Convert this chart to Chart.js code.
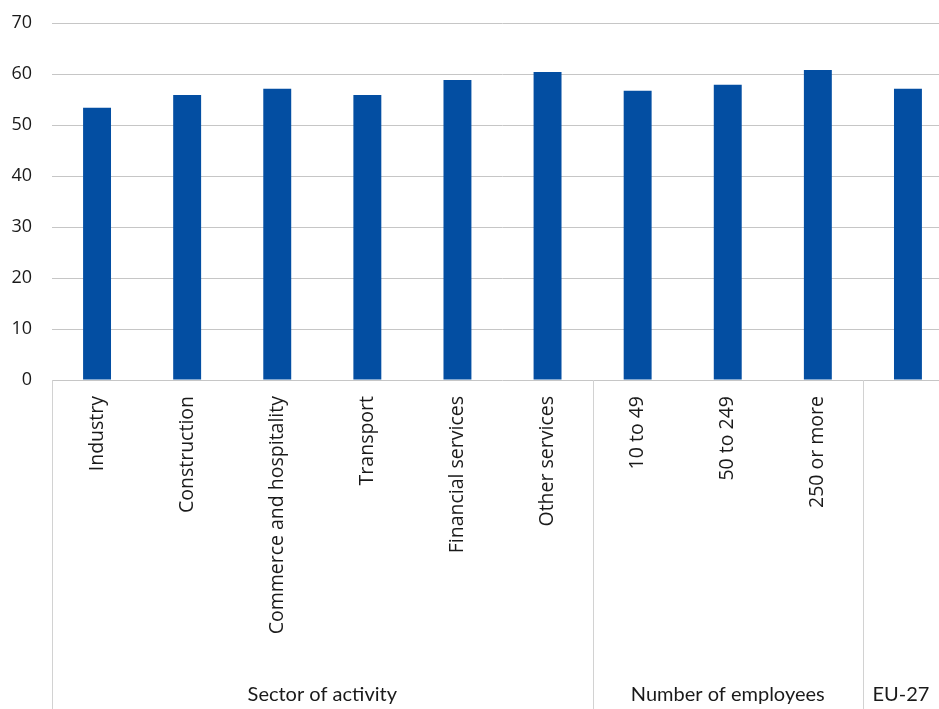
<!DOCTYPE html>
<html>
<head>
<meta charset="utf-8">
<script src="https://cdn.jsdelivr.net/npm/chart.js@4.4.1/dist/chart.umd.min.js"></script>
<style>
  html, body { margin: 0; padding: 0; background: #fff; overflow: hidden; }
  #wrap { position: relative; width: 953px; height: 709px; }
</style>
</head>
<body>
<div id="wrap"><canvas id="c"></canvas></div>
<script>
const categories = ['Industry', 'Construction', 'Commerce and hospitality', 'Transport', 'Financial services', 'Other services', '10 to 49', '50 to 249', '250 or more', ''];
const values = [53.4, 55.9, 57.1, 55.9, 58.8, 60.4, 56.7, 57.9, 60.8, 57.1];
const groupNames = ['Sector of activity', 'Number of employees', 'EU-27'];
const groupSizes = [6, 3, 1];
const yTicks = [0, 10, 20, 30, 40, 50, 60, 70];

const groupPlugin = {
  id: 'groups',
  afterDraw(chart) {
    const ctx = chart.ctx;
    const xs = chart.scales.x;
    const n = categories.length;
    const w = (xs.right - xs.left) / n;
    const top = chart.chartArea.bottom;
    const bottom = chart.height;
    const visibleRight = window.innerWidth;
    ctx.save();
    ctx.strokeStyle = '#d2d2d2';
    ctx.lineWidth = 1;
    let idx = 0;
    const bounds = [xs.getPixelForValue(0) - w / 2];
    groupSizes.forEach(s => { idx += s; bounds.push(xs.getPixelForValue(idx - 1) + w / 2); });
    bounds.forEach(b => {
      const x = Math.round(b) + 0.5;
      ctx.beginPath(); ctx.moveTo(x, top); ctx.lineTo(x, bottom); ctx.stroke();
    });
    ctx.fillStyle = '#1a1a1a';
    ctx.font = '20px Lato';
    ctx.textAlign = 'center';
    ctx.textBaseline = 'alphabetic';
    groupNames.forEach((g, i) => {
      const a = bounds[i], b = Math.min(bounds[i + 1], visibleRight);
      ctx.fillText(g, (a + b) / 2, 701);
    });
    ctx.restore();
  }
};

function draw() {
  new Chart(document.getElementById('c'), {
    type: 'bar',
    data: {
      labels: categories,
      datasets: [{
        data: values,
        backgroundColor: '#034EA2',
        borderWidth: 0,
        categoryPercentage: 1.0,
        barPercentage: 0.31
      }]
    },
    options: {
      responsive: true,
      maintainAspectRatio: false,
      animation: false,
      events: [],
      layout: { padding: { top: 23, right: 0, left: 0, bottom: 0 } },
      plugins: { legend: { display: false }, tooltip: { enabled: false } },
      scales: {
        x: {
          grid: { display: false, drawTicks: false },
          border: { display: false },
          ticks: {
            autoSkip: false,
            minRotation: 90,
            maxRotation: 90,
            padding: 16,
            color: '#1a1a1a',
            font: { family: '"Open Sans"', size: 19.5 }
          },
          afterFit(scale) { scale.height = 329; scale.paddingLeft = 0; scale.paddingRight = 0; }
        },
        y: {
          min: 0,
          max: 70,
          afterBuildTicks(scale) { scale.ticks = yTicks.map(v => ({ value: v })); },
          grid: { color: '#c6c6c6', drawTicks: false, lineWidth: 1 },
          border: { display: false },
          ticks: {
            padding: 20,
            color: '#1a1a1a',
            font: { family: '"Open Sans"', size: 18 }
          },
          afterFit(scale) { scale.width = 52; scale.paddingTop = 0; scale.paddingBottom = 0; }
        }
      }
    },
    plugins: [groupPlugin]
  });
}
Promise.all([
  document.fonts.load('18px "Open Sans"'),
  document.fonts.load('20px Lato')
]).then(draw, draw);
</script>
</body>
</html>
